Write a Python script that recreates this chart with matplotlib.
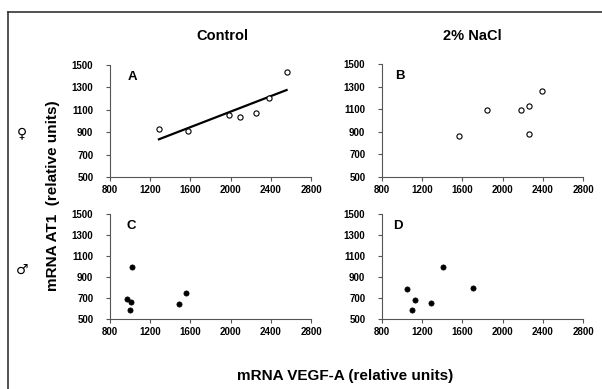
import matplotlib
matplotlib.use("Agg")
import matplotlib.pyplot as plt
import numpy as np
from matplotlib.lines import Line2D

plt.rcParams['font.family'] = ['Liberation Sans', 'DejaVu Sans']

# Data (mRNA VEGF-A vs mRNA AT1, relative units)
a_x = [1287, 1573, 1980, 2090, 2250, 2383, 2557]
a_y = [926, 908, 1051, 1033, 1069, 1205, 1435]
b_x = [1570, 1847, 2187, 2260, 2260, 2390]
b_y = [861, 1095, 1089, 1127, 879, 1257]
c_x = [1015, 965, 1010, 1000, 1490, 1555]
c_y = [1000, 691, 662, 583, 643, 748]
d_x = [1047, 1127, 1103, 1290, 1407, 1703]
d_y = [789, 684, 589, 649, 998, 792]

x_ticks = [800, 1200, 1600, 2000, 2400, 2800]
y_ticks = [500, 700, 900, 1100, 1300, 1500]
col_titles = ["Control", "2% NaCl"]
panel_letters = ["A", "B", "C", "D"]

W, H = 602, 389
fig = plt.figure(figsize=(W / 100, H / 100), dpi=100)

def fr(l, t, r, b):
    return [l / W, 1 - b / H, (r - l) / W, (b - t) / H]

rects = [fr(110, 65, 311, 177), fr(382, 64, 583, 177),
         fr(110, 214, 311, 319), fr(382, 214, 583, 319)]
datasets = [(a_x, a_y, 'open'), (b_x, b_y, 'open'), (c_x, c_y, 'filled'), (d_x, d_y, 'filled')]
letter_pos = [(0.09, 0.95), (0.065, 0.95), (0.08, 0.94), (0.055, 0.94)]

for i, (rect, (xs, ys, kind)) in enumerate(zip(rects, datasets)):
    ax = fig.add_axes(rect)
    if kind == 'open':
        ax.scatter(xs, ys, s=14, facecolors='white', edgecolors='black', linewidths=0.8, zorder=3)
    else:
        ax.scatter(xs, ys, s=14, facecolors='black', edgecolors='black', linewidths=0.5, zorder=3)
    if i == 0:
        k, c0 = np.polyfit(a_x, a_y, 1)
        xl = np.array([min(a_x), max(a_x)])
        ax.plot(xl, k * xl + c0, color='black', lw=1.6, zorder=2)
    ax.set_xlim(800, 2800)
    ax.set_ylim(500, 1500)
    ax.set_xticks(x_ticks)
    ax.set_yticks(y_ticks)
    ax.set_xticklabels([str(v) for v in x_ticks], fontsize=7, fontweight='bold')
    ax.set_yticklabels([str(v) for v in y_ticks], fontsize=7, fontweight='bold')
    for s in ['top', 'right']:
        ax.spines[s].set_visible(False)
    for s in ['left', 'bottom']:
        ax.spines[s].set_color('#555555')
        ax.spines[s].set_linewidth(0.8)
    ax.tick_params(direction='out', length=3, width=0.8, color='#555555')
    ax.tick_params(axis='x', pad=3)
    ax.tick_params(axis='y', pad=9)
    ax.text(letter_pos[i][0], letter_pos[i][1], panel_letters[i], transform=ax.transAxes,
            fontsize=9.5, fontweight='bold', va='top', ha='left')
    ax.set_facecolor('none')

# Column titles
fig.text(222 / W, 1 - 36 / H, col_titles[0], fontsize=10.5, fontweight='bold', ha='center', va='center')
fig.text(472 / W, 1 - 36 / H, col_titles[1], fontsize=10.5, fontweight='bold', ha='center', va='center')

# Sex symbols
fig.text(22 / W, 1 - 133 / H, "\u2640", fontsize=10, ha='center', va='center', family='DejaVu Sans')
fig.text(22 / W, 1 - 270 / H, "\u2642", fontsize=10, ha='center', va='center', family='DejaVu Sans')

# Axis labels
fig.text(53 / W, 1 - 196 / H, "mRNA AT1  (relative units)", fontsize=11, fontweight='bold',
         rotation=90, ha='center', va='center')
fig.text(345 / W, 1 - 376 / H, "mRNA VEGF-A (relative units)", fontsize=11, fontweight='bold',
         ha='center', va='center')

# Frame (left and top edges visible)
fig.add_artist(Line2D([8 / W, 8 / W], [0, 1 - 12 / H], transform=fig.transFigure, color='#333333', lw=1.2))
fig.add_artist(Line2D([8 / W, 1], [1 - 12 / H, 1 - 12 / H], transform=fig.transFigure, color='#333333', lw=1.2))

fig.savefig("out.png", dpi=100)
